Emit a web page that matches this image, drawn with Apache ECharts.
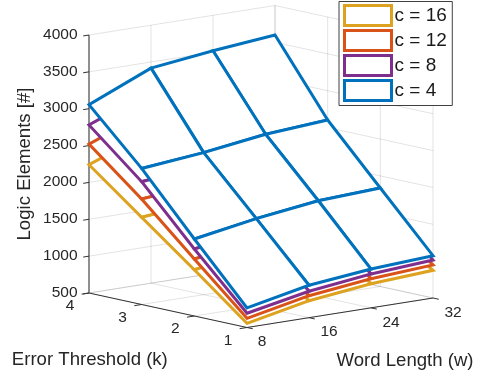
<!DOCTYPE html>
<html>
<head>
<meta charset="utf-8">
<style>html,body{margin:0;padding:0;background:#fff}#c{width:482px;height:378px}</style>
<script src="https://cdn.jsdelivr.net/npm/echarts@6/dist/echarts.min.js"></script>
</head>
<body>
<div id="c"></div>
<script>
const wordLengths = [8, 16, 24, 32];
const errorThresholds = [1, 2, 3, 4];
const zTicks = [500, 1000, 1500, 2000, 2500, 3000, 3500, 4000];
const legendNames = ['c = 16', 'c = 12', 'c = 8', 'c = 4'];
const colors = ['#DDA320', '#D95319', '#7E2F8E', '#0072BD'];
// rows: k = 1,2,3,4 ; columns: w = 8,16,24,32
const c16 = [[557, 730, 827, 876], [1128, 1240, 1320, 1360], [1683, 1760, 1850, 1910], [2240, 2560, 2650, 2720]];
const c12 = [[625, 798, 895, 948], [1273, 1390, 1480, 1520], [1931, 2010, 2110, 2170], [2520, 2850, 2940, 3010]];
const c8 = [[693, 858, 959, 1015], [1409, 1540, 1640, 1680], [2166, 2250, 2360, 2420], [2780, 3110, 3210, 3290]];
const c4 = [[765, 940, 1026, 1074], [1545, 1687, 1797, 1836], [2346, 2427, 2542, 2603], [3054, 3417, 3520, 3600]];
const surfaces = [c16, c12, c8, c4];

// orthographic view of the 3-D box
function project(w, k, z) {
  return [
    247 + (w - 8) / 24 * 186 - (k - 1) / 3 * 158,
    327.5 - (w - 8) / 24 * 29.5 - (k - 1) / 3 * 34.5 - (z - 500) / 3500 * 258
  ];
}

const FONT = '"Liberation Sans", Arial, sans-serif';
const TXT = '#262626';
const GRID = 'rgba(38,38,38,0.13)';
const wMin = 8, wMax = 32, kMin = 1, kMax = 4, zMin = 500, zMax = 4000;

const gridSegs = [];
zTicks.forEach(z => {
  gridSegs.push([wMin, kMax, z, wMax, kMax, z]);
  gridSegs.push([wMax, kMax, z, wMax, kMin, z]);
});
wordLengths.forEach(w => {
  gridSegs.push([w, kMin, zMin, w, kMax, zMin]);
  gridSegs.push([w, kMax, zMin, w, kMax, zMax]);
});
errorThresholds.forEach(k => {
  gridSegs.push([wMin, k, zMin, wMax, k, zMin]);
  gridSegs.push([wMax, k, zMin, wMax, k, zMax]);
});

function segSeries(name, segs, stroke, width) {
  return {
    type: 'custom', name, silent: true, coordinateSystem: 'cartesian2d', data: segs, clip: false,
    renderItem(p, api) {
      const s = segs[p.dataIndex];
      const a = api.coord(project(s[0], s[1], s[2])), b = api.coord(project(s[3], s[4], s[5]));
      return { type: 'line', shape: { x1: a[0], y1: a[1], x2: b[0], y2: b[1] }, style: { stroke, lineWidth: width, fill: null } };
    }
  };
}

function surfaceSeries(name, values, color) {
  const cells = [];
  for (let ki = errorThresholds.length - 2; ki >= 0; ki--) {
    for (let wi = wordLengths.length - 2; wi >= 0; wi--) cells.push([wi, ki]);
  }
  const pt = (wi, ki) => project(wordLengths[wi], errorThresholds[ki], values[ki][wi]);
  return {
    type: 'custom', name, silent: true, coordinateSystem: 'cartesian2d', data: cells, clip: false,
    itemStyle: { color },
    renderItem(p, api) {
      const [wi, ki] = cells[p.dataIndex];
      const pts = [pt(wi, ki), pt(wi + 1, ki), pt(wi + 1, ki + 1), pt(wi, ki + 1)].map(q => api.coord(q));
      return { type: 'polygon', shape: { points: pts }, style: { fill: '#fff', stroke: color, lineWidth: 3, lineJoin: 'miter' } };
    }
  };
}

function textSeries(name, items) {
  return {
    type: 'custom', name, silent: true, coordinateSystem: 'cartesian2d', data: items, clip: false,
    renderItem(p, api) {
      const it = items[p.dataIndex];
      const c = api.coord(it.pos);
      return { type: 'text', style: { text: it.text, x: c[0] + it.dx, y: c[1] + it.dy, fill: TXT, align: it.align, verticalAlign: 'middle', font: '15.5px ' + FONT } };
    }
  };
}

const zLabels = zTicks.map(z => ({ text: String(z), pos: project(wMin, kMax, z), dx: -11.5, dy: -0.5, align: 'right' }));
const kLabels = errorThresholds.map(k => ({ text: String(k), pos: project(wMin, k, zMin), dx: -19, dy: 13, align: 'center' }));
const wLabels = wordLengths.map(w => ({ text: String(w), pos: project(w, kMin, zMin), dx: w === 8 ? 15 : 20, dy: 14.5, align: 'center' }));

const zTickSegs = zTicks.map(z => [wMin, kMax, z, wMin - 0.75, kMax, z]);
const kTickSegs = errorThresholds.map(k => [wMin, k, zMin, wMin - 0.95, k, zMin]);
const wTickSegs = wordLengths.map(w => [w, kMin, zMin, w, kMin - 0.11, zMin]);
const axisSegs = [[wMin, kMin, zMin, wMin, kMax, zMin], [wMin, kMin, zMin, wMax, kMin, zMin]];
const zAxisSeg = [[wMin, kMax, zMin, wMin, kMax, zMax]];

const chart = echarts.init(document.getElementById('c'), null, { renderer: 'canvas', width: 482, height: 378 });
chart.setOption({
  animation: false,
  backgroundColor: '#fff',
  grid: { left: 0, right: 0, top: 0, bottom: 0 },
  xAxis: { type: 'value', min: 0, max: 482, show: false },
  yAxis: { type: 'value', min: 0, max: 378, inverse: true, show: false },
  legend: {
    left: 339, top: 1.5, orient: 'vertical', selectedMode: false,
    backgroundColor: '#fff', borderColor: '#404040', borderWidth: 1,
    padding: [2.5, 5.5, 3.5, 4], itemWidth: 47, itemHeight: 20, itemGap: 2,
    textStyle: { fontSize: 19, fontFamily: FONT, color: '#1a1a1a', lineHeight: 20, padding: [0, 0, 0, -2] },
    data: legendNames.map((name, i) => ({
      name, icon: 'rect',
      itemStyle: { color: '#fff', borderColor: colors[i], borderWidth: 3 }
    }))
  },
  graphic: [
    { type: 'text', left: 90.8 - 79, top: 350, style: { text: 'Error Threshold (k)', font: '18.6px ' + FONT, fill: TXT } },
    { type: 'text', x: 405, y: 360.5, style: { text: 'Word Length (w)', font: '18.6px ' + FONT, fill: TXT, align: 'center', verticalAlign: 'middle' } },
    { type: 'text', x: 25, y: 164, rotation: Math.PI / 2, style: { text: 'Logic Elements [#]', font: '18.6px ' + FONT, fill: TXT, align: 'center', verticalAlign: 'middle' } }
  ],
  series: [
    segSeries('grid', gridSegs, GRID, 1),
    segSeries('xyAxes', axisSegs, '#333333', 1),
    segSeries('zAxis', zAxisSeg, '#666666', 1.4),
    segSeries('zTicks', zTickSegs, '#333333', 1),
    segSeries('kTicks', kTickSegs, '#333333', 1),
    segSeries('wTicks', wTickSegs, '#333333', 1),
    textSeries('zLabels', zLabels),
    textSeries('kLabels', kLabels),
    textSeries('wLabels', wLabels),
    ...surfaces.map((v, i) => surfaceSeries(legendNames[i], v, colors[i]))
  ]
});
</script>
</body>
</html>
